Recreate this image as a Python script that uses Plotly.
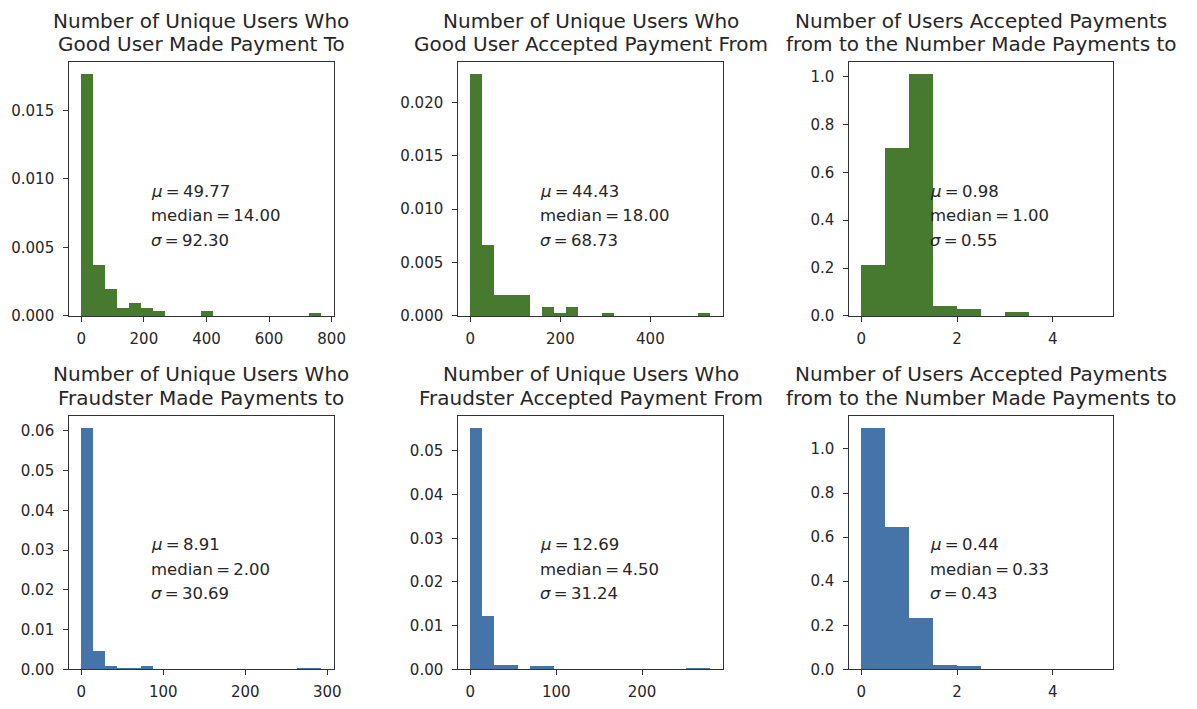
import plotly.graph_objects as go

# ---- histogram data (density per bin) ----
title_top = [
    "Number of Unique Users Who",
    "Number of Unique Users Who",
    "Number of Users Accepted Payments",
    "Number of Unique Users Who",
    "Number of Unique Users Who",
    "Number of Users Accepted Payments",
]
title_bottom = [
    "Good User Made Payment To",
    "Good User Accepted Payment From",
    "from to the Number Made Payments to",
    "Fraudster Made Payments to",
    "Fraudster Accepted Payment From",
    "from to the Number Made Payments to",
]

bin_start = [0, 0, 0, 0, 0, 0]
bin_width = [38.4, 26.7, 0.5, 14.65, 14.0, 0.5]

good_paid_to = [0.01764, 0.00367, 0.00197, 0.0006, 0.00096, 0.0006, 0.00036, 0, 0, 0,
                0.00036, 0, 0, 0, 0, 0, 0, 0, 0, 0.00017]
good_accepted_from = [0.02262, 0.00662, 0.0019, 0.0019, 0.0019, 0, 0.00083, 0.0003, 0.00083, 0,
                      0, 0.0003, 0, 0, 0, 0, 0, 0, 0, 0.0003]
good_ratio = [0.21, 0.70, 1.01, 0.041, 0.027, 0, 0.014, 0, 0, 0]
fraud_paid_to = [0.0608, 0.00479, 0.00083, 0.0004, 0.0004, 0.00083, 0, 0, 0, 0,
                 0, 0, 0, 0, 0, 0, 0, 0, 0.0004, 0.0004]
fraud_accepted_from = [0.0553, 0.01226, 0.00113, 0.00113, 0, 0.00075, 0.00075, 0, 0, 0,
                       0, 0, 0, 0, 0, 0, 0, 0, 0.00038, 0.00038]
fraud_ratio = [1.096, 0.649, 0.234, 0.022, 0.015, 0, 0, 0, 0, 0]

densities = [good_paid_to, good_accepted_from, good_ratio,
             fraud_paid_to, fraud_accepted_from, fraud_ratio]

means = ["49.77", "44.43", "0.98", "8.91", "12.69", "0.44"]
medians = ["14.00", "18.00", "1.00", "2.00", "4.50", "0.33"]
sigmas = ["92.30", "68.73", "0.55", "30.69", "31.24", "0.43"]

x_ticks = [[0, 200, 400, 600, 800], [0, 200, 400], [0, 2, 4],
           [0, 100, 200, 300], [0, 100, 200], [0, 2, 4]]
y_ticks = [[0, 0.005, 0.010, 0.015], [0, 0.005, 0.010, 0.015, 0.020],
           [0, 0.2, 0.4, 0.6, 0.8, 1.0], [0, 0.01, 0.02, 0.03, 0.04, 0.05, 0.06],
           [0, 0.01, 0.02, 0.03, 0.04, 0.05], [0, 0.2, 0.4, 0.6, 0.8, 1.0]]
y_formats = [".3f", ".3f", ".1f", ".2f", ".2f", ".1f"]

# ---- layout geometry and styling ----
W, H = 1197, 709
col_px = [(70, 337), (463, 730), (858, 1124)]
row_px = [(63, 320), (421, 678)]
GREEN = "#477a2e"
BLUE = "#4673a8"
TEXT = "#262626"
FONT = "DejaVu Sans"

fig = go.Figure()
annotations = []
layout_axes = {}

for i, dens in enumerate(densities):
    sfx = "" if i == 0 else str(i + 1)
    r, c = divmod(i, 3)
    color = GREEN if r == 0 else BLUE
    w = bin_width[i]
    lo = bin_start[i]
    hi = lo + w * len(dens)
    centers = [lo + w * (k + 0.5) for k in range(len(dens))]
    fig.add_trace(go.Bar(
        x=centers, y=dens, width=[w] * len(dens),
        marker=dict(color=color, line=dict(width=0)),
        xaxis=f"x{sfx}", yaxis=f"y{sfx}", showlegend=False,
    ))
    pad = 0.05 * (hi - lo)
    x0, x1 = col_px[c]
    y0, y1 = row_px[r]
    axis_style = dict(
        showline=True, mirror=True, linecolor="#333333", linewidth=1.2,
        ticks="outside", ticklen=5, tickwidth=1.2, tickcolor="#333333",
        showgrid=False, zeroline=False,
        tickfont=dict(family=FONT, size=15, color=TEXT),
    )
    layout_axes[f"xaxis{sfx}"] = dict(
        domain=[x0 / W, x1 / W], anchor=f"y{sfx}",
        range=[lo - pad, hi + pad], tickvals=x_ticks[i],
        ticklabelstandoff=4, **axis_style,
    )
    layout_axes[f"yaxis{sfx}"] = dict(
        domain=[1 - y1 / H, 1 - y0 / H], anchor=f"x{sfx}",
        range=[0, max(dens) * 1.05], tickvals=y_ticks[i],
        tickformat=y_formats[i], ticklabelstandoff=6, **axis_style,
    )
    # two-line panel title
    for txt, shift in ((title_bottom[i], 4), (title_top[i], 27.5)):
        annotations.append(dict(
            text=txt, xref=f"x{sfx} domain", yref=f"y{sfx} domain",
            x=0.5, y=1, xanchor="center", yanchor="bottom", yshift=shift,
            showarrow=False, font=dict(family=FONT, size=20, color=TEXT),
        ))
    # summary statistics
    stats = [f"<i>μ</i>\u2009=\u2009{means[i]}",
             f"median\u2009=\u2009{medians[i]}",
             f"<i>σ</i>\u2009=\u2009{sigmas[i]}"]
    for line, yy in zip(stats, [0.492, 0.395, 0.298]):
        annotations.append(dict(
            text=line, xref=f"x{sfx} domain", yref=f"y{sfx} domain",
            x=0.30, y=yy, xanchor="left", yanchor="middle",
            showarrow=False, font=dict(family=FONT, size=16.5, color=TEXT),
        ))

fig.update_layout(
    width=W, height=H, margin=dict(l=0, r=0, t=0, b=0),
    paper_bgcolor="white", plot_bgcolor="white",
    bargap=0, annotations=annotations, **layout_axes,
)

fig.write_html("out.html")
